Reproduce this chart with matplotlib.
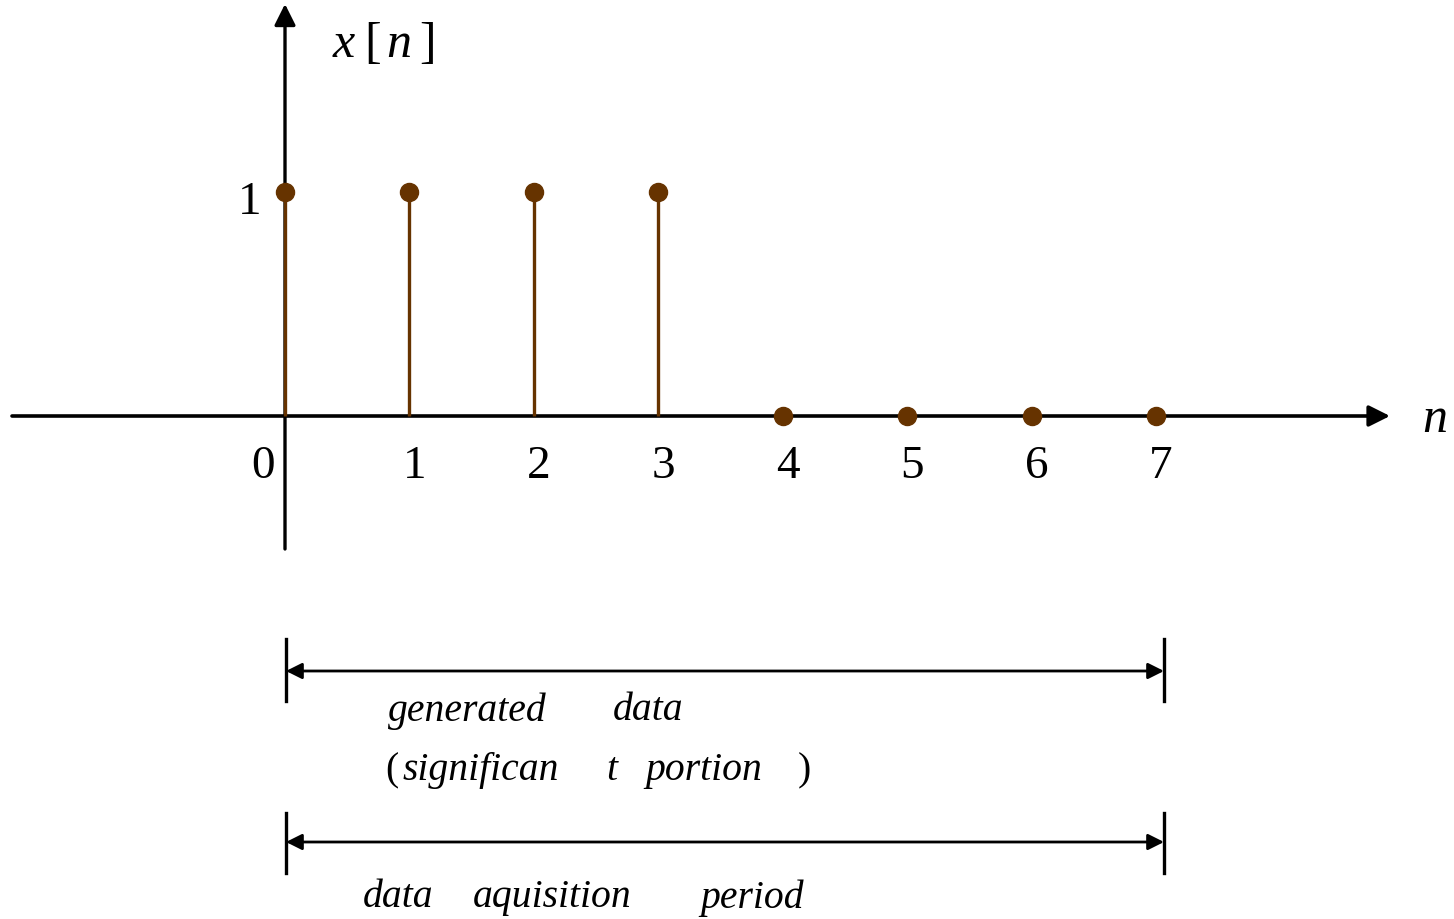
import matplotlib
matplotlib.use("Agg")
import matplotlib.pyplot as plt
import numpy as np

# ---- data ----
n_values = [0, 1, 2, 3, 4, 5, 6, 7]
x_values = [1, 1, 1, 1, 0, 0, 0, 0]
tick_labels = ["0", "1", "2", "3", "4", "5", "6", "7"]
y_label_parts = ["x", "[", "n", "]"]
x_label = "n"
span_words_1 = ["generated", "data"]
span_words_2 = ["(", "significan", "t", "portion", ")"]
span_words_3 = ["data", "aquisition", "period"]

W, H = 1454, 920
fig = plt.figure(figsize=(W / 100, H / 100), dpi=100)
ax = fig.add_axes([0, 0, 1, 1])
ax.set_axis_off()

# pixel geometry of the axes (n=0 -> px 285, n=7 -> px 1156; y=0 -> 417, y=1 -> 193)
x0px, x7px = 285.0, 1156.0
step = (x7px - x0px) / 7.0
y0px, y1px = 417.0, 193.0
unit = y0px - y1px
ax.set_xlim(-x0px / step, (W - x0px) / step)
ax.set_ylim((y0px - H) / unit, y0px / unit)


def px2d(px, py):
    return ((px - x0px) / step, (y0px - py) / unit)


serif = ["Liberation Serif", "DejaVu Serif"]
brown = "#663300"

# horizontal axis with arrow
ax.annotate("", xy=px2d(1390, 417), xytext=px2d(12, 417),
            arrowprops=dict(arrowstyle="-|>", lw=2.6, color="black",
                            mutation_scale=32, shrinkA=0, shrinkB=0),
            zorder=2)
# vertical axis with arrow
ax.annotate("", xy=px2d(285, 5), xytext=px2d(285, 550),
            arrowprops=dict(arrowstyle="-|>", lw=2.4, color="black",
                            mutation_scale=32, shrinkA=0, shrinkB=0),
            zorder=2)

# stems
nv = np.array(n_values)
xv = np.array(x_values)
ax.vlines(nv[xv != 0], 0, xv[xv != 0], color=brown, lw=2.4, zorder=3)
ax.plot(nv, xv, "o", color=brown, markersize=13, zorder=4)

# tick labels
for n, lab in zip(n_values, tick_labels):
    dx = -0.18 if n == 0 else 0.04
    ax.text(n + dx, px2d(0, 467)[1], lab, ha="center", va="center",
            fontsize=34, family=serif)
ax.text(px2d(250, 0)[0], 1 + (193 - 203) / unit, "1", ha="center",
        va="center", fontsize=34, family=serif)

# axis labels
for part, xpx in zip(y_label_parts, [333, 364, 386, 419]):
    st = "italic" if part.isalpha() else "normal"
    ax.text(*px2d(xpx, 45), part, ha="left", va="center", fontsize=36,
            family=serif, style=st)
ax.text(*px2d(1422, 420), x_label, ha="left", va="center", fontsize=36,
        family=serif, style="italic")

# dimension lines
for ybar, (ytop, ybot) in [(672, (640, 702)), (843, (814, 874))]:
    for xb in (286, 1164):
        ax.plot(*zip(px2d(xb, ytop), px2d(xb, ybot)), color="black", lw=2.4)
    ax.annotate("", xy=px2d(1164, ybar), xytext=px2d(286, ybar),
                arrowprops=dict(arrowstyle="<|-|>", lw=2.0, color="black",
                                mutation_scale=24, shrinkA=0, shrinkB=0))

# annotation words
fs = 28.5
for word, xpx in zip(span_words_1, [388, 613]):
    ax.text(*px2d(xpx, 711), word, ha="left", va="center", fontsize=fs,
            family=serif, style="italic")
for word, xpx in zip(span_words_2, [385, 403, 606, 645, 798]):
    st = "normal" if word in "()" else "italic"
    ax.text(*px2d(xpx, 771), word, ha="left", va="center", fontsize=fs,
            family=serif, style=st)
for word, xpx in zip(span_words_3, [363, 473, 700]):
    ax.text(*px2d(xpx, 898), word, ha="left", va="center", fontsize=fs,
            family=serif, style="italic")

fig.savefig("out.png", dpi=100, facecolor="white")
